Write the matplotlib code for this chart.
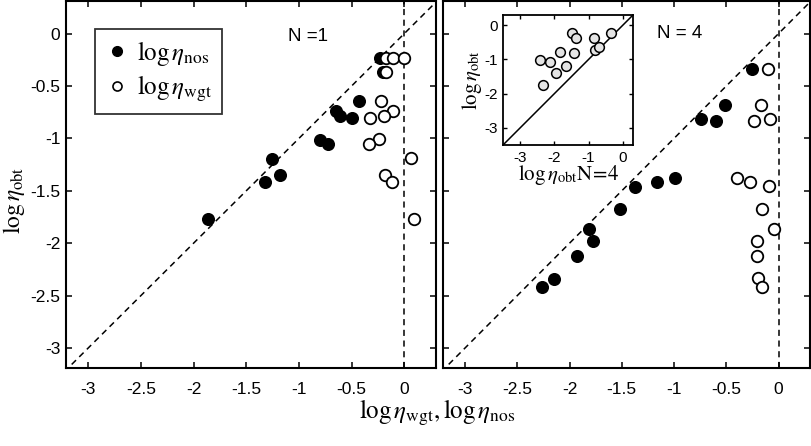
import matplotlib
matplotlib.use("Agg")
import matplotlib.pyplot as plt
from matplotlib import font_manager as fm
from matplotlib.lines import Line2D

plt.rcParams['mathtext.fontset'] = 'stix'
names = {f.name for f in fm.fontManager.ttflist}
tickfont = 'Liberation Sans Narrow' if 'Liberation Sans Narrow' in names else 'Liberation Sans'

# ---- data: N = 1 ----
n1_nos_x = [-0.235, -0.20, -0.43, -0.65, -0.61, -0.50, -0.80, -0.72, -1.26, -1.18, -1.32, -1.86]
n1_nos_y = [-0.23, -0.37, -0.64, -0.74, -0.79, -0.81, -1.02, -1.05, -1.20, -1.35, -1.42, -1.77]
n1_wgt_x = [-0.17, -0.11, 0.0, -0.17, -0.22, -0.11, -0.19, -0.33, -0.24, -0.34, 0.06, -0.18, -0.12, 0.09]
n1_wgt_y = [-0.23, -0.23, -0.23, -0.37, -0.64, -0.74, -0.79, -0.81, -1.01, -1.05, -1.19, -1.35, -1.42, -1.77]

# ---- data: N = 4 ----
n4_nos_x = [-0.25, -0.51, -0.74, -0.60, -0.99, -1.16, -1.37, -1.52, -1.81, -1.78, -1.93, -2.15, -2.26]
n4_nos_y = [-0.34, -0.68, -0.82, -0.83, -1.38, -1.42, -1.46, -1.67, -1.86, -1.98, -2.12, -2.34, -2.42]
n4_wgt_x = [-0.10, -0.17, -0.24, -0.08, -0.40, -0.27, -0.09, -0.16, -0.04, -0.21, -0.21, -0.20, -0.16]
n4_wgt_y = [-0.34, -0.68, -0.83, -0.82, -1.38, -1.42, -1.45, -1.67, -1.86, -1.98, -2.12, -2.33, -2.42]

# ---- inset data ----
ins_x = [-2.43, -2.12, -1.84, -1.96, -2.33, -1.65, -1.48, -1.38, -1.42, -0.83, -0.80, -0.68, -0.34]
ins_y = [-1.02, -1.07, -0.78, -1.39, -1.75, -1.20, -0.22, -0.36, -0.80, -0.36, -0.73, -0.64, -0.24]

xticks = [-3, -2.5, -2, -1.5, -1, -0.5, 0]
xticklabels = ['-3', '-2.5', '-2', '-1.5', '-1', '-0.5', '0']
ins_ticks = [-3, -2, -1, 0]
ins_ticklabels = ['-3', '-2', '-1', '0']

W, H = 812, 446
fig = plt.figure(figsize=(W / 100, H / 100), dpi=100)

def px_axes(x0, y0, x1, y1):
    return fig.add_axes([x0 / W, 1 - y1 / H, (x1 - x0) / W, (y1 - y0) / H])

ax1 = px_axes(66, 1, 436, 368)
ax2 = px_axes(443, 1, 810, 368)

ms = 8.3
for ax, nx, ny, wx, wy in [(ax1, n1_nos_x, n1_nos_y, n1_wgt_x, n1_wgt_y),
                           (ax2, n4_nos_x, n4_nos_y, n4_wgt_x, n4_wgt_y)]:
    ax.set_xlim(-3.21, 0.30)
    ax.set_ylim(-3.19, 0.31)
    ax.plot([-3.3, 0.4], [-3.3, 0.4], color='black', lw=1.1, dashes=(4, 3), zorder=1)
    ax.axvline(0, color='black', lw=1.1, dashes=(4, 3), zorder=1)
    ax.plot(nx, ny, 'o', ms=ms, mfc='black', mec='black', mew=1.1, zorder=3)
    ax.plot(wx, wy, 'o', ms=ms, mfc='white', mec='black', mew=1.3, zorder=3)
    ax.set_xticks(xticks)
    ax.set_xticklabels(xticklabels, fontfamily=tickfont, fontsize=12.5)
    ax.set_yticks(xticks)
    ax.tick_params(direction='in', length=4, width=1.1, top=True, right=True, pad=10)
    for s in ax.spines.values():
        s.set_linewidth(1.5)

ax1.set_yticklabels(xticklabels, fontfamily=tickfont, fontsize=12.5)
ax1.tick_params(axis='y', pad=4)
ax2.set_yticklabels([])

ax1.text(-0.91, -0.03, 'N =1', ha='center', va='center', fontsize=13.5, fontfamily='Liberation Sans')
ax2.text(-0.95, 0.0, 'N = 4', ha='center', va='center', fontsize=13.5, fontfamily='Liberation Sans')

# legend
handles = [Line2D([], [], ls='none', marker='o', ms=7, mfc='black', mec='black'),
           Line2D([], [], ls='none', marker='o', ms=6.5, mfc='white', mec='black', mew=1.2)]
labels = [r'$\mathrm{log}\,\eta_{\mathrm{nos}}$', r'$\mathrm{log}\,\eta_{\mathrm{wgt}}$']
leg = ax1.legend(handles, labels, loc='upper left', bbox_to_anchor=(0.078, 0.925),
                 fontsize=18, frameon=True, fancybox=False, edgecolor='black',
                 handletextpad=0.3, handlelength=1.0, borderpad=0.4, labelspacing=0.25,
                 borderaxespad=0)
leg.get_frame().set_linewidth(1.3)

fig.text(14 / W, 1 - 200 / H, r'$\mathrm{log}\,\eta_{\mathrm{obt}}$', rotation=90,
         ha='center', va='center', fontsize=17)
fig.text(437 / W, 1 - 413 / H, r'$\mathrm{log}\,\eta_{\mathrm{wgt}}, \mathrm{log}\,\eta_{\mathrm{nos}}$',
         ha='center', va='center', fontsize=18)

# inset
axi = px_axes(503, 15, 633, 145)
axi.set_xlim(-3.5, 0.3)
axi.set_ylim(-3.5, 0.3)
axi.plot([-3.5, 0.3], [-3.5, 0.3], color='black', lw=1.1)
axi.plot(ins_x, ins_y, 'o', ms=7, mfc='#e4e4e4', mec='black', mew=1.1)
axi.set_xticks(ins_ticks)
axi.set_xticklabels(ins_ticklabels, fontfamily=tickfont, fontsize=11)
axi.set_yticks(ins_ticks)
axi.set_yticklabels(ins_ticklabels, fontfamily=tickfont, fontsize=11)
axi.tick_params(direction='in', length=3, width=1.0, top=True, right=True, pad=4)
for s in axi.spines.values():
    s.set_linewidth(1.3)
axi.set_xlabel(r'$\mathrm{log}\,\eta_{\mathrm{obt}}\mathrm{N\!=\!4}$', fontsize=15, labelpad=-1)
axi.set_ylabel(r'$\mathrm{log}\,\eta_{\mathrm{obt}}$', fontsize=15, labelpad=0)

fig.savefig('out.png', dpi=100)
